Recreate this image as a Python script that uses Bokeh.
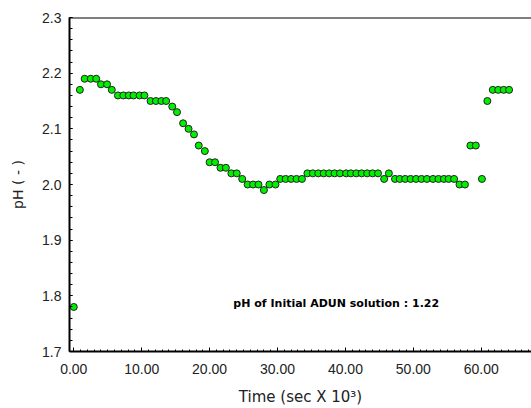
from bokeh.plotting import figure
from bokeh.models import SingleIntervalTicker, PrintfTickFormatter, Span, Label, ColumnDataSource, Range1d
from bokeh.embed import file_html
from bokeh.resources import INLINE

# Time (sec x 10^3)
time_k = [0.0, 0.9, 1.6, 2.5, 3.3, 4.0, 4.9, 5.6, 6.5, 7.3, 8.1, 8.8, 9.7, 10.4,
          11.3, 12.1, 12.9, 13.6, 14.5, 15.2, 16.1, 16.9, 17.7, 18.4, 19.3, 20.0,
          20.8, 21.6, 22.4, 23.2, 24.0, 24.8, 25.6, 26.4, 27.2, 28.0, 28.8, 29.7,
          30.4, 31.2, 32.0, 32.8, 33.6, 34.4, 35.2, 36.0, 36.8, 37.6, 38.4, 39.2,
          40.1, 40.8, 41.6, 42.4, 43.2, 44.0, 44.8, 45.7, 46.4, 47.3, 48.0, 48.8,
          49.6, 50.4, 51.2, 52.0, 52.9, 53.7, 54.5, 55.2, 56.0, 56.8, 57.6, 58.4,
          59.2, 60.1, 60.9, 61.7, 62.5, 63.3, 64.1]
ph = [1.78, 2.17, 2.19, 2.19, 2.19, 2.18, 2.18, 2.17, 2.16, 2.16, 2.16, 2.16, 2.16, 2.16,
      2.15, 2.15, 2.15, 2.15, 2.14, 2.13, 2.11, 2.10, 2.09, 2.07, 2.06, 2.04,
      2.04, 2.03, 2.03, 2.02, 2.02, 2.01, 2.00, 2.00, 2.00, 1.99, 2.00, 2.00,
      2.01, 2.01, 2.01, 2.01, 2.01, 2.02, 2.02, 2.02, 2.02, 2.02, 2.02, 2.02,
      2.02, 2.02, 2.02, 2.02, 2.02, 2.02, 2.02, 2.01, 2.02, 2.01, 2.01, 2.01,
      2.01, 2.01, 2.01, 2.01, 2.01, 2.01, 2.01, 2.01, 2.01, 2.00, 2.00, 2.07,
      2.07, 2.01, 2.15, 2.17, 2.17, 2.17, 2.17]

note_text = "pH of Initial ADUN solution : 1.22"
note_x = 23.5
note_y = 1.786

FONT = "Liberation Sans"
FONT2 = "DejaVu Sans"

p = figure(width=531, height=408, output_backend="svg", toolbar_location=None,
           x_range=Range1d(-0.63, 67.4), y_range=Range1d(1.7, 2.30001),
           min_border_left=69, min_border_right=0, min_border_top=17, min_border_bottom=56,
           background_fill_color="white", border_fill_color="white")
p.outline_line_color = None
p.xgrid.visible = False
p.ygrid.visible = False

src = ColumnDataSource(dict(x=time_k, y=ph))
p.scatter("x", "y", source=src, size=7, fill_color="#00F000", line_color="#222222", line_width=1)

p.add_layout(Span(location=2.30001, dimension="width", line_color="black", line_width=2))

p.add_layout(Label(x=note_x, y=note_y, text=note_text, text_font=FONT2, text_font_size="11px",
                   text_font_style="bold", text_baseline="middle", text_align="left",
                   text_color="black"))

xa = p.xaxis[0]
xa.ticker = SingleIntervalTicker(interval=10, num_minor_ticks=10)
xa.formatter = PrintfTickFormatter(format="%.2f")
xa.axis_line_width = 2
xa.axis_line_color = "black"
xa.major_tick_in = 4
xa.major_tick_out = 0
xa.minor_tick_in = 2
xa.minor_tick_out = 0
xa.major_tick_line_color = "black"
xa.minor_tick_line_color = "black"
xa.major_label_standoff = 12
xa.major_label_text_font = FONT
xa.major_label_text_font_size = "14px"
xa.major_label_text_color = "#222222"
xa.axis_label = "Time (sec X 10³)"
xa.axis_label_text_font = FONT2
xa.axis_label_text_font_size = "15px"
xa.axis_label_text_font_style = "normal"
xa.axis_label_text_color = "#222222"
xa.axis_label_standoff = 11

ya = p.yaxis[0]
ya.ticker = SingleIntervalTicker(interval=0.1, num_minor_ticks=5)
ya.formatter = PrintfTickFormatter(format="%.1f")
ya.axis_line_width = 2
ya.axis_line_color = "black"
ya.major_tick_in = 3
ya.major_tick_out = 0
ya.minor_tick_in = 3
ya.minor_tick_out = 0
ya.major_tick_line_color = "black"
ya.minor_tick_line_color = "black"
ya.major_label_standoff = 8
ya.major_label_text_font = FONT
ya.major_label_text_font_size = "14px"
ya.major_label_text_color = "#222222"
ya.axis_label = "pH ( - )"
ya.axis_label_text_font = FONT2
ya.axis_label_text_font_size = "14px"
ya.axis_label_text_font_style = "normal"
ya.axis_label_text_color = "#222222"
ya.axis_label_standoff = 13

open("out.html", "w").write(file_html(p, INLINE))
